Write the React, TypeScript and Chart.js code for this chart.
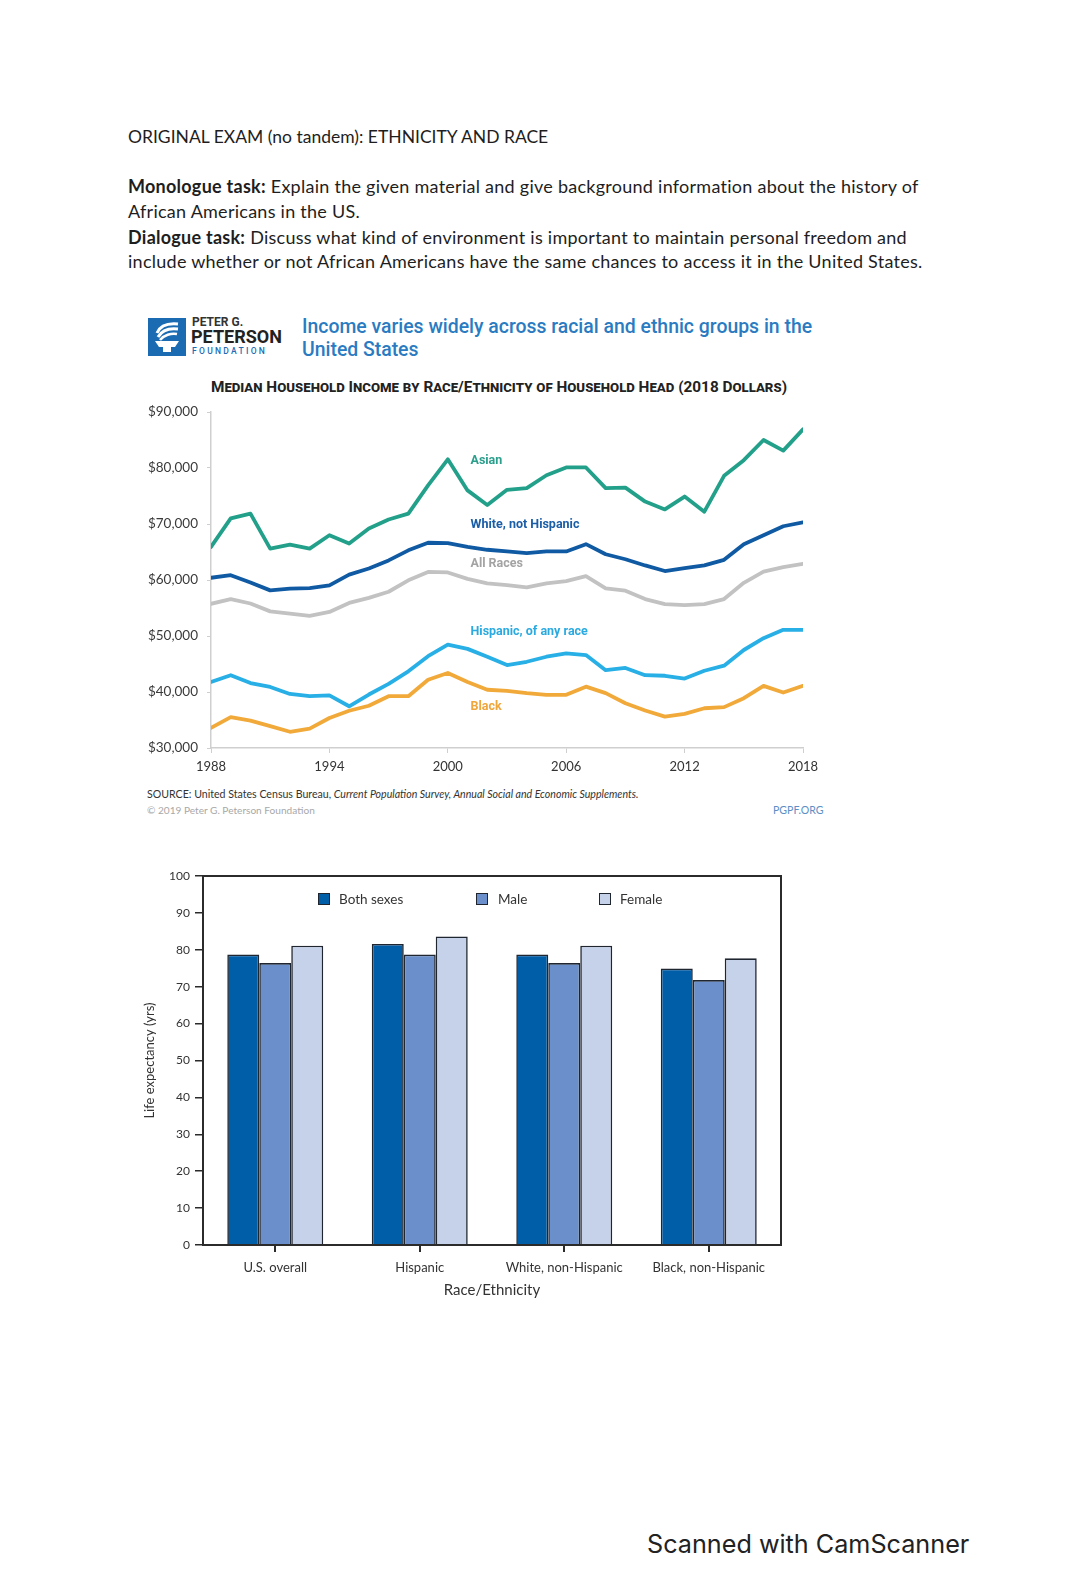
import React, { useEffect, useRef } from "react";
import { Chart, registerables } from "chart.js";

Chart.register(...registerables);

// ---------- Line chart data: median household income (2018 dollars) ----------
const YEARS = [
  1988, 1989, 1990, 1991, 1992, 1993, 1994, 1995, 1996, 1997, 1998, 1999, 2000,
  2001, 2002, 2003, 2004, 2005, 2006, 2007, 2008, 2009, 2010, 2011, 2012, 2013,
  2014, 2015, 2016, 2017, 2018,
];
const ASIAN = [
  65900, 71000, 71850, 65600, 66300, 65600, 68000, 66500, 69200, 70800, 71850, 76900, 81550,
  76000, 73400, 76100, 76400, 78700, 80100, 80100, 76400, 76500, 74000, 72600, 74900, 72200,
  78600, 81400, 85000, 83100, 86900,
];
const WHITE_NH = [
  60400, 60850, 59550, 58150, 58450, 58550, 59050, 60950, 62050, 63500, 65300, 66650, 66600,
  65900, 65400, 65100, 64800, 65100, 65100, 66400, 64600, 63700, 62600, 61600, 62100, 62600,
  63600, 66400, 68000, 69600, 70300,
];
const ALL_RACES = [
  55750, 56600, 55800, 54400, 54000, 53600, 54300, 55900, 56800, 57900, 59950, 61450, 61350,
  60200, 59400, 59100, 58700, 59400, 59800, 60700, 58500, 58100, 56600, 55700, 55500, 55700,
  56600, 59500, 61500, 62300, 62900,
];
const HISPANIC = [
  41800, 43000, 41600, 40900, 39650, 39250, 39400, 37450, 39550, 41450, 43700, 46400, 48450,
  47700, 46300, 44800, 45400, 46300, 46900, 46600, 43900, 44300, 43000, 42900, 42400, 43800,
  44700, 47500, 49600, 51100, 51100,
];
const BLACK = [
  33600, 35500, 34900, 33900, 32900, 33450, 35350, 36650, 37550, 39250, 39250, 42200, 43400,
  41800, 40400, 40200, 39800, 39500, 39500, 40950, 39800, 38000, 36700, 35600, 36100, 37100,
  37300, 38900, 41100, 39900, 41100,
];
const INCOME_MIN = 30000;
const INCOME_MAX = 90000;
const INCOME_STEP = 10000;
const YEAR_TICK_STEP = 6;

// label text for each line, and the income level where its tag sits
const SERIES_NAMES = ["Asian", "White, not Hispanic", "All Races", "Hispanic, of any race", "Black"];
const SERIES_TAG_VALUES = [81250, 69800, 62850, 50700, 37300];
const TAG_YEAR = 2001.15;

// ---------- Bar chart data: life expectancy ----------
const GROUPS = ["U.S. overall", "Hispanic", "White, non-Hispanic", "Black, non-Hispanic"];
const BOTH_SEXES = [78.7, 81.6, 78.7, 74.9];
const MALE = [76.4, 78.7, 76.4, 71.8];
const FEMALE = [81.1, 83.6, 81.1, 77.7];
const LIFE_TICK_STEP = 10;

const LINE_COLORS = ["#22a08a", "#0f5aa3", "#c2c2c2", "#27afe6", "#f1a93a"];
const TAG_COLORS = ["#2a9f8c", "#1b5ea8", "#a3a3a3", "#2aaae0", "#efa63a"];
const BAR_COLORS = ["#005da8", "#6a8fca", "#c6d1ea"];

const fmtMoney = (v: number) => "$" + Math.round(v).toLocaleString("en-US");

const zeroPad = (s: any) => {
  s.paddingTop = 0;
  s.paddingBottom = 0;
  s.paddingLeft = 0;
  s.paddingRight = 0;
};

function IncomeChart() {
  const ref = useRef<HTMLCanvasElement | null>(null);
  useEffect(() => {
    if (!ref.current) return;
    const seriesArrays = [ASIAN, WHITE_NH, ALL_RACES, HISPANIC, BLACK];
    const tagPlugin = {
      id: "seriesTags",
      afterDatasetsDraw(chart: any) {
        const { ctx, scales } = chart;
        ctx.save();
        ctx.font = "bold 12.5px Roboto, 'DejaVu Sans', sans-serif";
        ctx.textBaseline = "middle";
        ctx.textAlign = "left";
        chart.data.datasets.forEach((ds: any, i: number) => {
          ctx.fillStyle = TAG_COLORS[i];
          ctx.fillText(
            ds.label,
            scales.x.getPixelForValue(TAG_YEAR),
            scales.y.getPixelForValue(SERIES_TAG_VALUES[i])
          );
        });
        ctx.restore();
      },
    };
    const chart = new Chart(ref.current, {
      type: "line",
      data: {
        datasets: seriesArrays.map((arr, i) => ({
          label: SERIES_NAMES[i],
          data: arr.map((v, j) => ({ x: YEARS[j], y: v })),
          borderColor: LINE_COLORS[i],
          backgroundColor: LINE_COLORS[i],
          borderWidth: 3.8,
          pointRadius: 0,
          tension: 0,
          fill: false,
          borderJoinStyle: "round" as const,
          borderCapStyle: "round" as const,
        })),
      },
      options: {
        animation: false,
        responsive: false,
        layout: { padding: { top: 12, right: 27, left: 0, bottom: 0 } },
        plugins: { legend: { display: false }, tooltip: { enabled: false } },
        scales: {
          x: {
            type: "linear",
            min: YEARS[0],
            max: YEARS[YEARS.length - 1],
            afterFit: (s: any) => {
              s.height = 32;
              zeroPad(s);
            },
            border: { display: true, color: "#cfcfcf", width: 1.5 },
            grid: { display: true, drawOnChartArea: false, tickLength: 5, color: "#cfcfcf" },
            ticks: {
              stepSize: YEAR_TICK_STEP,
              padding: 6,
              color: "#333",
              font: { family: "Lato, 'DejaVu Sans', sans-serif", size: 13 },
              callback: (v: any) => String(v),
            },
          },
          y: {
            min: INCOME_MIN,
            max: INCOME_MAX,
            afterFit: (s: any) => {
              s.width = 81;
              zeroPad(s);
            },
            border: { display: true, color: "#cfcfcf", width: 1.5 },
            grid: { display: true, drawOnChartArea: false, tickLength: 4, color: "#cfcfcf" },
            ticks: {
              stepSize: INCOME_STEP,
              padding: 9,
              color: "#3a3a3a",
              font: { family: "Lato, 'DejaVu Sans', sans-serif", size: 13.5 },
              callback: (v: any) => fmtMoney(Number(v)),
            },
          },
        },
      },
      plugins: [tagPlugin],
    });
    return () => chart.destroy();
  }, []);
  return (
    <canvas
      ref={ref}
      width={700}
      height={380}
      style={{ position: "absolute", left: 130, top: 400, width: 700, height: 380 }}
    />
  );
}

function LifeChart() {
  const ref = useRef<HTMLCanvasElement | null>(null);
  useEffect(() => {
    if (!ref.current) return;
    const framePlugin = {
      id: "frame",
      afterDraw(chart: any) {
        const { ctx, chartArea } = chart;
        ctx.save();
        ctx.strokeStyle = "#2b2b2b";
        ctx.lineWidth = 2;
        ctx.strokeRect(
          chartArea.left,
          chartArea.top,
          chartArea.right - chartArea.left,
          chartArea.bottom - chartArea.top
        );
        ctx.restore();
      },
    };
    const names = ["Both sexes", "Male", "Female"];
    const chart = new Chart(ref.current, {
      type: "bar",
      data: {
        labels: GROUPS,
        datasets: [BOTH_SEXES, MALE, FEMALE].map((arr, i) => ({
          label: names[i],
          data: arr,
          backgroundColor: BAR_COLORS[i],
          borderColor: "#1f2630",
          borderWidth: 1.6,
          categoryPercentage: 0.664,
          barPercentage: 1.0,
        })),
      },
      options: {
        animation: false,
        responsive: false,
        layout: { padding: { top: 16, right: 19, left: 0, bottom: 0 } },
        plugins: { legend: { display: false }, tooltip: { enabled: false } },
        scales: {
          x: {
            afterFit: (s: any) => {
              s.height = 55;
            },
            border: { display: true, color: "#2b2b2b", width: 2 },
            grid: {
              display: true,
              drawOnChartArea: false,
              offset: false,
              tickLength: 7,
              color: "#2b2b2b",
              lineWidth: 2,
            },
            ticks: {
              padding: 8,
              color: "#333",
              font: { family: "Lato, 'DejaVu Sans', sans-serif", size: 13 },
            },
            title: {
              display: true,
              text: "Race/Ethnicity",
              color: "#333",
              padding: { top: 0, bottom: 1 },
              font: { family: "Lato, 'DejaVu Sans', sans-serif", size: 15 },
            },
          },
          y: {
            min: 0,
            max: 100,
            afterFit: (s: any) => {
              s.width = 63;
            },
            border: { display: true, color: "#2b2b2b", width: 2 },
            grid: {
              display: true,
              drawOnChartArea: false,
              tickLength: 8,
              color: "#2b2b2b",
              lineWidth: 1.5,
            },
            ticks: {
              stepSize: LIFE_TICK_STEP,
              padding: 5,
              color: "#333",
              font: { family: "Lato, 'DejaVu Sans', sans-serif", size: 12 },
            },
            title: {
              display: true,
              text: "Life expectancy (yrs)",
              color: "#333",
              padding: { top: 2, bottom: 0 },
              font: { family: "Lato, 'DejaVu Sans', sans-serif", size: 13 },
            },
          },
        },
      },
      plugins: [framePlugin],
    });
    return () => chart.destroy();
  }, []);
  return (
    <canvas
      ref={ref}
      width={660}
      height={440}
      style={{ position: "absolute", left: 140, top: 860, width: 660, height: 440 }}
    />
  );
}

const abs = (left: number, top: number, extra: React.CSSProperties = {}): React.CSSProperties => ({
  position: "absolute",
  left,
  top,
  whiteSpace: "nowrap",
  margin: 0,
  ...extra,
});

function Logo() {
  return (
    <svg width={38} height={38} viewBox="0 0 38 38" style={abs(148, 318)}>
      <rect x={0} y={0} width={38} height={38} fill="#1b6bb3" />
      <path d="M9 15 C 12 8, 20 5, 30 6" stroke="#fff" strokeWidth={3} fill="none" />
      <path d="M10 19 C 14 12, 22 10, 30 11" stroke="#fff" strokeWidth={3} fill="none" />
      <path d="M12 22 C 16 17, 23 15, 29 16" stroke="#fff" strokeWidth={2.5} fill="none" />
      <path d="M7 23 L31 23 L27 29 L11 29 Z" fill="#fff" />
      <rect x={15} y={29} width={8} height={5} fill="#fff" />
    </svg>
  );
}

export default function App() {
  const bodyFont = "Lato, 'Open Sans', sans-serif";
  const headStyle: React.CSSProperties = {
    fontFamily: bodyFont,
    fontSize: 17.5,
    color: "#1e1e1e",
    lineHeight: "25px",
  };
  const textStyle: React.CSSProperties = {
    ...headStyle,
    fontSize: 18,
    letterSpacing: "0.26px",
  };
  const legendItems = [
    { name: "Both sexes", color: BAR_COLORS[0], boxX: 318, textX: 339 },
    { name: "Male", color: BAR_COLORS[1], boxX: 476, textX: 498 },
    { name: "Female", color: BAR_COLORS[2], boxX: 599, textX: 620 },
  ];
  return (
    <div
      style={{
        position: "absolute",
        left: 0,
        top: 0,
        width: 1080,
        height: 1570,
        background: "#fff",
        overflow: "hidden",
      }}
    >
      <div style={abs(128, 124, headStyle)}>ORIGINAL EXAM (no tandem): ETHNICITY AND RACE</div>
      <div style={abs(128, 174, textStyle)}>
        <b>Monologue task:</b> Explain the given material and give background information about the history of
      </div>
      <div style={abs(128, 199, textStyle)}>African Americans in the US.</div>
      <div style={abs(128, 225, textStyle)}>
        <b>Dialogue task:</b> Discuss what kind of environment is important to maintain personal freedom and
      </div>
      <div style={abs(128, 249, textStyle)}>
        include whether or not African Americans have the same chances to access it in the United States.
      </div>

      <Logo />
      <div
        style={abs(192, 315, {
          fontFamily: "Roboto, sans-serif",
          fontWeight: 700,
          fontSize: 12,
          lineHeight: "14px",
          color: "#333",
        })}
      >
        PETER G.
      </div>
      <div
        style={abs(191, 327, {
          fontFamily: "Roboto, sans-serif",
          fontWeight: 700,
          fontSize: 18,
          lineHeight: "20px",
          color: "#222",
        })}
      >
        PETERSON
      </div>
      <div
        style={abs(192, 346, {
          fontFamily: "Roboto, sans-serif",
          fontWeight: 500,
          fontSize: 8.5,
          lineHeight: "10px",
          color: "#1b6bb3",
          letterSpacing: "2.3px",
        })}
      >
        FOUNDATION
      </div>
      <div
        style={abs(302, 315, {
          fontFamily: "Roboto, sans-serif",
          fontWeight: 500,
          fontSize: 19.4,
          lineHeight: "23px",
          color: "#2a7bc1",
        })}
      >
        Income varies widely across racial and ethnic groups in the
        <br />
        United States
      </div>
      <div
        style={abs(211, 378, {
          fontFamily: "Roboto, sans-serif",
          fontWeight: 700,
          fontSize: 15.35,
          lineHeight: "18px",
          color: "#222",
          fontVariant: "small-caps",
        })}
      >
        Median Household Income by Race/Ethnicity of Household Head (2018 Dollars)
      </div>

      <IncomeChart />

      <div
        style={abs(147, 788, {
          fontFamily: "Lato, sans-serif",
          fontSize: 10.6,
          lineHeight: "12px",
          color: "#333",
        })}
      >
        SOURCE: United States Census Bureau, <i>Current Population Survey, Annual Social and Economic Supplements.</i>
      </div>
      <div
        style={abs(147, 804, {
          fontFamily: "Lato, sans-serif",
          fontSize: 10.1,
          lineHeight: "12px",
          color: "#a8a8a8",
        })}
      >
        © 2019 Peter G. Peterson Foundation
      </div>
      <div
        style={abs(773, 804, {
          fontFamily: "Lato, sans-serif",
          fontSize: 10.6,
          lineHeight: "12px",
          color: "#5b8fc6",
        })}
      >
        PGPF.ORG
      </div>

      <LifeChart />
      {legendItems.map((it) => (
        <React.Fragment key={it.name}>
          <div
            style={abs(it.boxX, 893, {
              width: 10,
              height: 10,
              background: it.color,
              border: "1.5px solid #1f2630",
            })}
          />
          <div
            style={abs(it.textX, 890, {
              fontFamily: "Lato, sans-serif",
              fontSize: 13.5,
              lineHeight: "18px",
              color: "#333",
            })}
          >
            {it.name}
          </div>
        </React.Fragment>
      ))}

      <div
        style={abs(647, 1527, {
          fontFamily: "Inter, 'Open Sans', sans-serif",
          fontSize: 25.2,
          lineHeight: "34px",
          color: "#222",
        })}
      >
        Scanned with CamScanner
      </div>
    </div>
  );
}
